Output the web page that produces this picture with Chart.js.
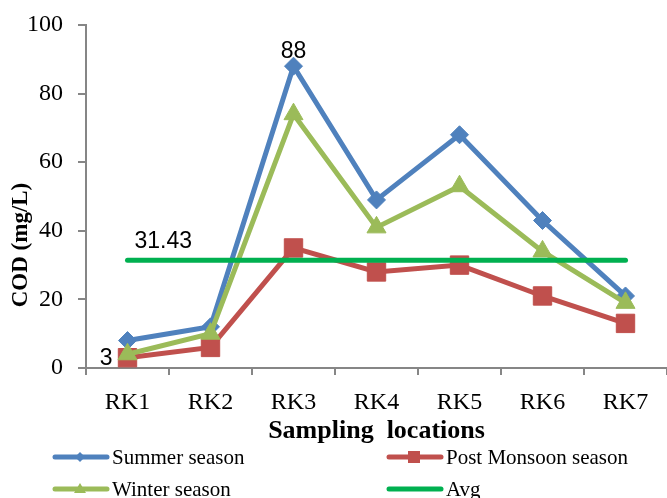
<!DOCTYPE html>
<html>
<head>
<meta charset="utf-8">
<script src="https://cdn.jsdelivr.net/npm/chart.js@4.4.0/dist/chart.umd.min.js"></script>
<style>
  html, body { margin: 0; padding: 0; background: #fff; overflow: hidden; }
  #wrap { position: relative; width: 667px; height: 498px; overflow: hidden; }
  #myChart { display: block; }
  #legend { position: absolute; left: 0; top: 0; width: 667px; height: 498px; pointer-events: none;
            font-family: "Liberation Serif", "Times New Roman", serif; font-size: 21px; color: #000; }
  .item { position: absolute; display: flex; align-items: center; height: 26px; white-space: nowrap; }
  .item svg { display: block; margin-right: 2px; }
</style>
</head>
<body>
<div id="wrap">
  <canvas id="myChart" width="667" height="498"></canvas>
  <div id="legend"></div>
</div>
<script>
// data
const categories = ['RK1', 'RK2', 'RK3', 'RK4', 'RK5', 'RK6', 'RK7'];
const summer = [8, 12, 88, 49, 68, 43, 21];
const postMonsoon = [3, 6, 35, 28, 30, 21, 13];
const winter = [4, 10, 74, 41, 53, 34, 19];
const avg = [31.43, 31.43, 31.43, 31.43, 31.43, 31.43, 31.43];
const yTicks = [0, 20, 40, 60, 80, 100];

const seriesNames = ['Summer season', 'Post Monsoon season', 'Winter season', 'Avg'];
const seriesColors = ['#4F81BD', '#C0504D', '#9BBB59', '#00B050'];

const axisGray = '#868686';
const serif = '"Liberation Serif", "Times New Roman", serif';

/* labels on a few points + y title */

const extraText = {
    id: 'extraText',
    afterDatasetsDraw(chart) {
        const ctx = chart.ctx;
        ctx.save();
        ctx.fillStyle = '#000';
        ctx.font = '23px "Liberation Sans", Arial, sans-serif';
        ctx.textBaseline = 'alphabetic';

        // max of summer
        let p = chart.getDatasetMeta(0).data[2];
        ctx.textAlign = 'center';
        ctx.fillText(String(summer[2]), p.x, p.y - 8);

        // min of post monsoon
        p = chart.getDatasetMeta(1).data[0];
        ctx.textAlign = 'right';
        ctx.fillText(String(postMonsoon[0]), p.x - 15, p.y + 7);

        // average value
        p = chart.getDatasetMeta(3).data[0];
        ctx.textAlign = 'left';
        ctx.fillText(avg[0].toFixed(2), p.x + 7, p.y - 12);

        // y axis title, sits a bit below the middle like the original
        ctx.translate(21, 245);
        ctx.rotate(-Math.PI / 2);
        ctx.font = 'bold 23px ' + serif;
        ctx.textAlign = 'center';
        ctx.textBaseline = 'middle';
        ctx.fillText('COD (mg/L)', 0, 0);
        ctx.restore();
    }
};

const ctx = document.getElementById('myChart');

const myChart = new Chart(ctx, {
    type: 'line',
    data: {
        labels: categories,
        datasets: [{
            label: seriesNames[0],
            data: summer,
            borderColor: seriesColors[0],
            backgroundColor: seriesColors[0],
            borderWidth: 5,
            pointStyle: 'rectRot',
            pointRadius: 9,
            pointBorderWidth: 1,
            order: 4
        }, {
            label: seriesNames[1],
            data: postMonsoon,
            borderColor: seriesColors[1],
            backgroundColor: seriesColors[1],
            borderWidth: 5,
            pointStyle: 'rect',
            pointRadius: 13,
            pointBorderWidth: 1,
            order: 3
        }, {
            label: seriesNames[2],
            data: winter,
            borderColor: seriesColors[2],
            backgroundColor: seriesColors[2],
            borderWidth: 5,
            pointStyle: 'triangle',
            pointRadius: 11,
            pointBorderWidth: 1,
            order: 2
        }, {
            label: seriesNames[3],
            data: avg,
            borderColor: seriesColors[3],
            backgroundColor: seriesColors[3],
            borderWidth: 5,
            pointRadius: 0,
            borderCapStyle: 'round',
            order: 1
        }]
    },
    options: {
        responsive: false,
        animation: false,
        clip: false,
        // no extra room for markers, axis runs to the right edge
        layout: { autoPadding: false, padding: { left: 0, right: 0, top: 25, bottom: 50 } },
        elements: { line: { tension: 0 } },
        plugins: {
            legend: { display: false },
            tooltip: { enabled: false }
        },
        scales: {
            x: {
                offset: true,
                grid: { drawOnChartArea: false, color: axisGray, lineWidth: 2, tickLength: 7, offset: true },
                border: { color: axisGray, width: 2 },
                ticks: { color: '#000', font: { family: serif, size: 24, lineHeight: 2.3 }, padding: 0, maxRotation: 0 },
                title: {
                    display: true,
                    text: 'Sampling  locations',
                    color: '#000',
                    font: { family: serif, size: 26, weight: 'bold' },
                    padding: { top: 0, bottom: 1 }
                },
                afterFit(scale) {
                    scale.height = 80;
                    scale.paddingLeft = 0;
                    scale.paddingRight = 0;
                }
            },
            y: {
                min: 0,
                max: 100,
                afterBuildTicks(scale) { scale.ticks = yTicks.map(v => ({ value: v })); },
                grid: { drawOnChartArea: false, color: axisGray, lineWidth: 2, tickLength: 8 },
                border: { color: axisGray, width: 2 },
                ticks: { color: '#000', font: { family: serif, size: 24 }, padding: 15 },
                afterFit(scale) {
                    scale.width = 86;
                    scale.paddingTop = 0;
                    scale.paddingBottom = 0;
                }
            }
        }
    },
    plugins: [extraText]
});

/* legend in html, two columns */

const legendSpots = [[52, 457], [386, 457], [52, 489], [386, 489]];
const markerShapes = ['diamond', 'square', 'triangle', 'none'];

function markerSvg(shape, color) {
    let m = '';
    if (shape === 'diamond') m = '<polygon points="28,5 33,10 28,15 23,10" fill="' + color + '"/>';
    if (shape === 'square') m = '<rect x="22" y="4" width="12" height="12" fill="' + color + '"/>';
    if (shape === 'triangle') m = '<polygon points="28,4 34,14 22,14" fill="' + color + '"/>';
    return '<svg width="58" height="20" viewBox="0 0 58 20">' +
        '<line x1="3" y1="10" x2="55" y2="10" stroke="' + color + '" stroke-width="5" stroke-linecap="round"/>' +
        m + '</svg>';
}

const legendBox = document.getElementById('legend');
seriesNames.forEach(function(name, i) {
    const div = document.createElement('div');
    div.className = 'item';
    div.style.left = legendSpots[i][0] + 'px';
    div.style.top = (legendSpots[i][1] - 13) + 'px';
    div.innerHTML = markerSvg(markerShapes[i], seriesColors[i]) + '<span>' + name + '</span>';
    legendBox.appendChild(div);
});
</script>
</body>
</html>
